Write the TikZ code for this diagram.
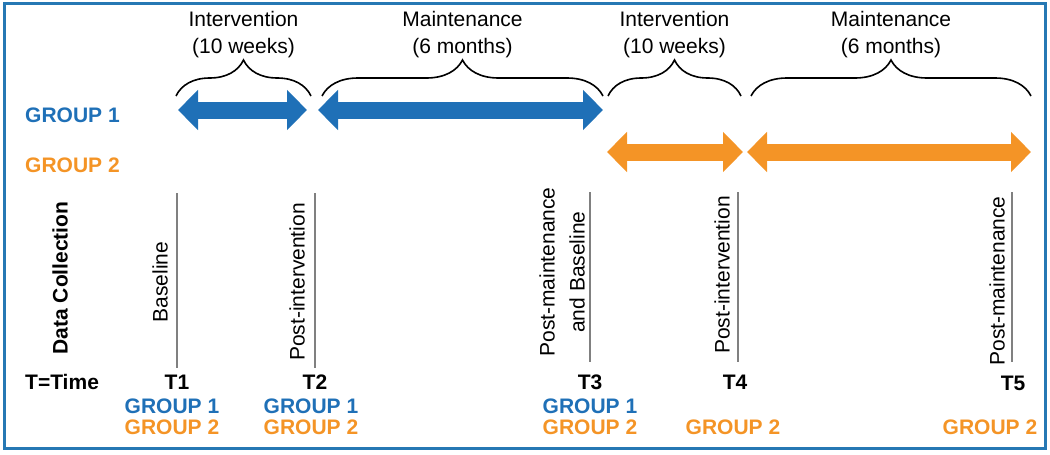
\documentclass[tikz,border=0pt]{standalone}
\usepackage{fontspec}
\setmainfont{Liberation Sans}
\usetikzlibrary{arrows.meta,decorations.pathreplacing}
\definecolor{grpblue}{RGB}{31,112,183}
\definecolor{grporange}{RGB}{244,148,38}
\definecolor{framecol}{RGB}{38,120,180}

\begin{document}
\begin{tikzpicture}[x=1pt,y=-1pt,
    txt/.style={font=\fontsize{21}{27}\selectfont, inner sep=0pt, align=center},
    bold/.style={txt, font=\fontsize{21}{27}\selectfont\bfseries},
    bluegrp/.style={bold, text=grpblue},
    orangegrp/.style={bold, text=grporange},
    period/.style={decorate, decoration={brace, amplitude=36pt}, line width=1.6pt},
    bar/.style={line width=17pt, {Triangle[width=39pt,length=20pt]}-{Triangle[width=39pt,length=20pt]}},
    tick/.style={draw=gray, line width=1.5pt},
    vlabel/.style={txt, rotate=90}]
    \useasboundingbox (0,0) rectangle (1050,455);
    \draw[framecol, line width=3pt] (4,3) rectangle (1045,448);

    % time points
    \coordinate (g1a) at (178,110);
    \coordinate (g1b) at (307,110);
    \coordinate (g1c) at (318,110);
    \coordinate (g1d) at (603,110);
    \coordinate (g2a) at (607,152);
    \coordinate (g2b) at (743,152);
    \coordinate (g2c) at (747,152);
    \coordinate (g2d) at (1031,152);

    \node[bluegrp, anchor=west] (lg1) at (25,115) {GROUP 1};
    \node[orangegrp, anchor=west] (lg2) at (25,165) {GROUP 2};

    \draw[bar, grpblue] (g1a) -- (g1b);
    \draw[bar, grpblue] (g1c) -- (g1d);
    \draw[bar, grporange] (g2a) -- (g2b);
    \draw[bar, grporange] (g2c) -- (g2d);

    % phases
    \foreach \a/\b/\lbl in {176/311/{Intervention\\(10 weeks)},
                           322/603/{Maintenance\\(6 months)},
                           608/741/{Intervention\\(10 weeks)},
                           751/1031/{Maintenance\\(6 months)}}
        \draw[period] (\a,96) -- (\b,96) node[txt, midway, yshift=61pt] (ph\a) {\lbl};

    % data collection
    \node[bold, rotate=90] (dc) at (60,278) {Data Collection};
    \foreach \x/\top/\bot in {177/193/368, 315/193/368, 590/192/362, 738/192/362, 1012/192/362}
        \draw[tick] (\x,\top) -- (\x,\bot);
    \node[vlabel] (v1) at (160,282) {Baseline};
    \node[vlabel] (v2) at (297,282) {Post-intervention};
    \node[vlabel] (v3) at (562,272) {Post-maintenance\\[3pt]and Baseline};
    \node[vlabel] (v4) at (722,275) {Post-intervention};
    \node[vlabel] (v5) at (997,281) {Post-maintenance};

    \node[bold, anchor=west] (tt) at (25,382) {T=Time};
    \node[bold] (t1) at (177,382) {T1};
    \node[bold] (t2) at (315,382) {T2};
    \node[bold] (t3) at (590,382) {T3};
    \node[bold] (t4) at (735,382) {T4};
    \node[bold] (t5) at (1013,383) {T5};

    \node[bluegrp] (a1) at (172,406) {GROUP 1};
    \node[orangegrp] (b1) at (172,427) {GROUP 2};
    \node[bluegrp] (a2) at (311,406) {GROUP 1};
    \node[orangegrp] (b2) at (311,427) {GROUP 2};
    \node[bluegrp] (a3) at (590,406) {GROUP 1};
    \node[orangegrp] (b3) at (590,427) {GROUP 2};
    \node[orangegrp] (b4) at (733,427) {GROUP 2};
    \node[orangegrp] (b5) at (990,427) {GROUP 2};
\end{tikzpicture}
\end{document}
